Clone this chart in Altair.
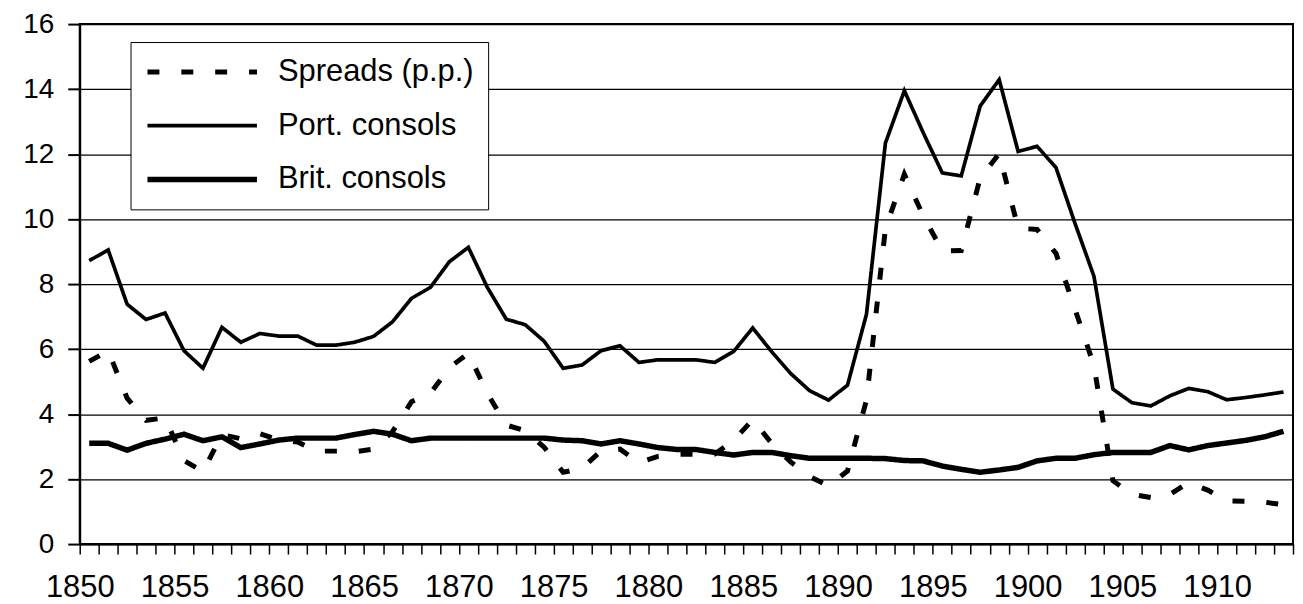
import altair as alt
import pandas as pd

years = list(range(1850, 1914))

port = [8.72, 9.05, 7.38, 6.91, 7.11, 5.95, 5.41, 6.67, 6.21, 6.48,
        6.40, 6.40, 6.12, 6.12, 6.21, 6.39, 6.84, 7.56, 7.90, 8.69,
        9.13, 7.90, 6.92, 6.75, 6.24, 5.41, 5.51, 5.95, 6.10, 5.59,
        5.67, 5.67, 5.67, 5.59, 5.93, 6.65, 5.92, 5.25, 4.72, 4.43,
        4.89, 7.07, 12.34, 13.95, 12.65, 11.42, 11.33, 13.48, 14.29, 12.08,
        12.24, 11.58, 9.87, 8.24, 4.77, 4.35, 4.25, 4.56, 4.79, 4.69,
        4.44, 4.51, 4.59, 4.68]

brit = [3.10, 3.10, 2.89, 3.10, 3.23, 3.38, 3.18, 3.30, 2.97, 3.08,
        3.20, 3.26, 3.26, 3.26, 3.37, 3.47, 3.38, 3.18, 3.26, 3.26,
        3.26, 3.26, 3.26, 3.26, 3.26, 3.20, 3.18, 3.08, 3.18, 3.08,
        2.97, 2.91, 2.91, 2.82, 2.74, 2.82, 2.82, 2.72, 2.64, 2.64,
        2.64, 2.64, 2.63, 2.57, 2.56, 2.40, 2.30, 2.21, 2.28, 2.36,
        2.56, 2.64, 2.64, 2.75, 2.82, 2.82, 2.82, 3.03, 2.90, 3.03,
        3.11, 3.19, 3.30, 3.47]

spreads = [5.62, 5.95, 4.49, 3.81, 3.88, 2.57, 2.23, 3.37, 3.24, 3.40,
           3.20, 3.14, 2.86, 2.86, 2.84, 2.92, 3.46, 4.38, 4.64, 5.43,
           5.87, 4.64, 3.66, 3.49, 2.98, 2.21, 2.33, 2.87, 2.92, 2.51,
           2.70, 2.76, 2.76, 2.77, 3.19, 3.83, 3.10, 2.53, 2.08, 1.79,
           2.25, 4.43, 9.71, 11.38, 10.09, 9.02, 9.03, 11.27, 12.01, 9.72,
           9.68, 8.94, 7.23, 5.49, 1.95, 1.53, 1.43, 1.53, 1.89, 1.66,
           1.33, 1.32, 1.29, 1.21]

series = ["Spreads (p.p.)", "Port. consols", "Brit. consols"]
y_ticks = list(range(0, 17, 2))
x_ticks = list(range(1850, 1915))

rows = []
for name, vals in zip(series, [spreads, port, brit]):
    for yr, v in zip(years, vals):
        rows.append({"year": yr, "value": v, "series": name})
df = pd.DataFrame(rows)

FONT = "Liberation Sans"

legend = alt.Legend(
    title=None,
    orient="none",
    legendX=51,
    legendY=18,
    symbolType="stroke",
    symbolSize=12100,
    clipHeight=32,
    rowPadding=22,
    padding=14,
    labelOffset=18,
    labelFont=FONT,
    labelFontSize=31,
    labelColor="black",
    labelLimit=500,
    fillColor="white",
    strokeColor="black",
)

chart = (
    alt.Chart(df)
    .transform_calculate(xpos="datum.year + 0.5")
    .mark_line(strokeCap="butt")
    .encode(
        x=alt.X(
            "xpos:Q",
            title=None,
            scale=alt.Scale(domain=[1850, 1914], nice=False, zero=False),
            axis=alt.Axis(
                values=x_ticks,
                format="d",
                labelExpr="datum.value % 5 === 0 ? datum.label : ''",
                labelOverlap=False,
                labelFlush=False,
                grid=False,
                tickSize=10,
                tickWidth=1.5,
                domainWidth=2,
                labelFontSize=31,
                labelPadding=19,
            ),
        ),
        y=alt.Y(
            "value:Q",
            title=None,
            scale=alt.Scale(domain=[0, 16], nice=False),
            axis=alt.Axis(
                values=y_ticks,
                grid=True,
                gridWidth=1.3,
                tickSize=12,
                tickWidth=2,
                domainWidth=2,
                labelFontSize=28,
                labelPadding=14,
            ),
        ),
        color=alt.Color(
            "series:N",
            scale=alt.Scale(domain=series, range=["black", "black", "black"]),
            legend=legend,
        ),
        strokeDash=alt.StrokeDash(
            "series:N",
            scale=alt.Scale(domain=series, range=[[12, 22], [1, 0], [1, 0]]),
            legend=legend,
        ),
        strokeWidth=alt.StrokeWidth(
            "series:N",
            scale=alt.Scale(type="ordinal", domain=series, range=[5, 3.7, 5.5]),
            legend=legend,
        ),
        order=alt.Order("year:Q"),
    )
    .properties(
        width=1218,
        height=522,
        autosize=alt.AutoSizeParams(type="none"),
        padding={"left": 72, "top": 15, "right": 2, "bottom": 58},
        background="white",
    )
    .configure_view(stroke="black", strokeWidth=2)
    .configure_axis(
        labelFont=FONT,
        labelColor="black",
        domainColor="black",
        tickColor="black",
        gridColor="black",
    )
)

chart.save("out.html", embed_options={"renderer": "svg", "actions": False})
